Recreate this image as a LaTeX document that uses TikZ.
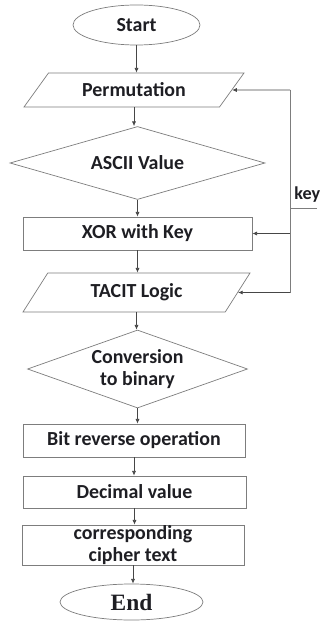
\documentclass[tikz,border=0pt]{standalone}
\usepackage{fontspec}
\setmainfont{Carlito}
\newfontfamily\endfont{Liberation Serif}
\usetikzlibrary{shapes.geometric,arrows.meta}

\definecolor{edgegray}{RGB}{125,125,125}
\definecolor{arrowgray}{RGB}{70,70,70}
\definecolor{textdark}{RGB}{30,30,35}

\tikzset{
    term/.style={draw=edgegray, ellipse, inner sep=0pt, text=textdark},
    para/.style={draw=edgegray, trapezium, trapezium left angle=30, trapezium right angle=150,
        trapezium stretches body=true, inner sep=0pt, text=textdark},
    decision/.style={draw=edgegray, diamond, inner sep=0pt, text=textdark},
    box/.style={draw=edgegray, rectangle, minimum height=0.99cm, inner sep=0pt, text=textdark},
    flow/.style={->, draw=arrowgray},
    keyline/.style={draw=edgegray}
}

\begin{document}
\begin{tikzpicture}[x=0.03cm, y=-0.03cm, >={Latex[length=4pt,width=3.5pt]},
    font=\fontsize{17}{19}\selectfont\bfseries, line width=0.6pt]
            \useasboundingbox (0,0) rectangle (322,621);

            % blocks
            \node[term, minimum width=3.81cm, minimum height=1.2cm] (start) at (136.5,25) {Start};
            \node[para, minimum width=6.6cm, minimum height=1.02cm] (perm) at (134,90) {Permutation};
            \node[decision, aspect=3.5, minimum width=7.65cm, minimum height=2.19cm] (ascii) at (137.5,163) {ASCII Value};
            \node[box, minimum width=6.87cm] (xor) at (137.5,233.5) {XOR with Key};
            \node[para, trapezium left angle=35, trapezium right angle=145, minimum width=6.81cm, minimum height=1.17cm] (tacit) at (136.5,292.5) {TACIT Logic};
            \node[decision, aspect=2.8, align=center, minimum width=6.6cm, minimum height=2.34cm] (conv) at (137.5,369) {Conversion\\to binary};
            \node[box, minimum width=6.66cm] (bitrev) at (134,440.5) {Bit reverse operation};
            \node[box, minimum width=6.69cm, minimum height=0.96cm] (dec) at (134.5,492) {Decimal value};
            \node[box, align=center, minimum width=6.66cm, minimum height=1.2cm] (cipher) at (133,545) {corresponding\\cipher text};
            \node[term, minimum width=4.29cm, minimum height=1.08cm,
                font=\endfont\fontsize{20}{22}\selectfont\bfseries] (end) at (131.5,602) {End};

            % main flow
            \draw[flow] (start.south) -- (start.south |- perm.north);
            \draw[flow] (perm.south) -- (perm.south |- ascii.north);
            \draw[flow] (ascii.south) -- (ascii.south |- xor.north);
            \draw[flow] (xor.south) -- (xor.south |- tacit.north);
            \draw[flow] (tacit.south) -- (tacit.south |- conv.north);
            \draw[flow] (conv.south) -- (conv.south |- bitrev.north);
            \draw[flow] (bitrev.south) -- (bitrev.south |- dec.north);
            \draw[flow] (dec.south) -- (dec.south |- cipher.north);
            \draw[flow] (cipher.south) -- (cipher.south |- end.north);

            % key input
            \coordinate (ktop) at (290,90);
            \coordinate (kbot) at (290,292.5);
            \coordinate (kin) at (317,208);
            \coordinate (kmid) at (290,208);
            \coordinate (kxor) at (290,233.5);

            \draw[keyline] (ktop) -- (kbot);
            \draw[keyline] (kin) -- (kmid);
            \draw[flow] (ktop) -- (perm);
            \draw[flow] (kxor) -- (xor.east);
            \draw[flow] (kbot) -- (tacit);
            \node[anchor=south west, inner sep=0pt, text=textdark,
                font=\fontsize{15.5}{17}\selectfont\bfseries] (key) at (294,203) {key};
        \end{tikzpicture}
\end{document}
